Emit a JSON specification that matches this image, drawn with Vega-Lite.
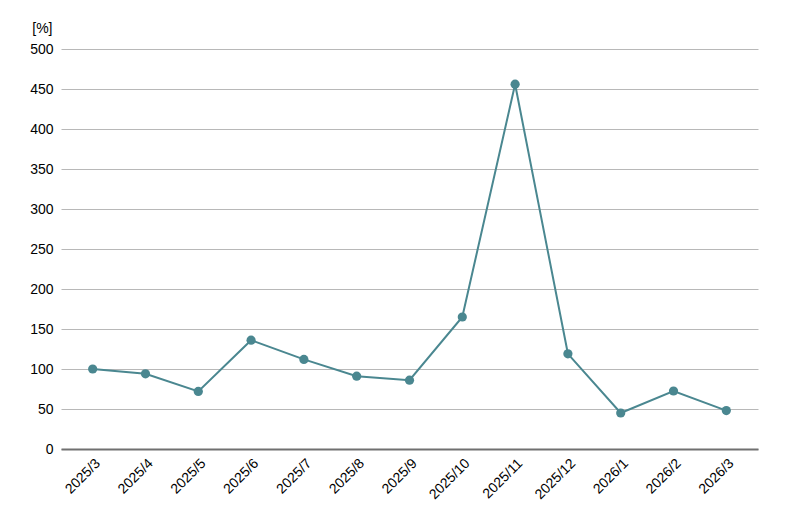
{
  "$schema": "https://vega.github.io/schema/vega-lite/v6.json",
  "width": 697,
  "height": 400,
  "autosize": {"type": "none"},
  "padding": {"left": 61, "top": 49, "right": 42, "bottom": 71},
  "background": "#ffffff",
  "config": {
    "view": {"stroke": null},
    "font": "Liberation Sans",
    "axis": {"labelFont": "Liberation Sans", "titleFont": "Liberation Sans", "labelColor": "#000000", "titleColor": "#000000"}
  },
  "data": {
    "values": [
      {"month": "2025/3", "value": 100},
      {"month": "2025/4", "value": 94},
      {"month": "2025/5", "value": 72},
      {"month": "2025/6", "value": 136},
      {"month": "2025/7", "value": 112},
      {"month": "2025/8", "value": 91},
      {"month": "2025/9", "value": 86},
      {"month": "2025/10", "value": 165},
      {"month": "2025/11", "value": 456},
      {"month": "2025/12", "value": 119},
      {"month": "2026/1", "value": 45},
      {"month": "2026/2", "value": 72.5},
      {"month": "2026/3", "value": 48}
    ]
  },
  "encoding": {
    "x": {
      "field": "month",
      "type": "ordinal",
      "sort": null,
      "scale": {"type": "point", "padding": 0.6},
      "axis": {
        "title": null,
        "labelAngle": -45,
        "labelFontSize": 14,
        "ticks": false,
        "labelPadding": 7,
        "domainColor": "#707070",
        "domainWidth": 2,
        "grid": false
      }
    },
    "y": {
      "field": "value",
      "type": "quantitative",
      "scale": {"domain": [0, 500], "nice": false},
      "axis": {
        "values": [0, 50, 100, 150, 200, 250, 300, 350, 400, 450, 500],
        "title": "[%]",
        "titleAngle": 0,
        "titleX": -9,
        "titleY": -21,
        "titleAlign": "right",
        "titleBaseline": "middle",
        "titleFontSize": 14,
        "titleFontWeight": "normal",
        "labelFontSize": 14,
        "labelPadding": 8,
        "ticks": false,
        "domain": false,
        "gridColor": "#b8b8b8",
        "gridWidth": 1
      }
    }
  },
  "layer": [
    {"mark": {"type": "line", "color": "#4a8790", "strokeWidth": 2}},
    {"mark": {"type": "circle", "color": "#4a8790", "size": 85, "opacity": 1}}
  ]
}
